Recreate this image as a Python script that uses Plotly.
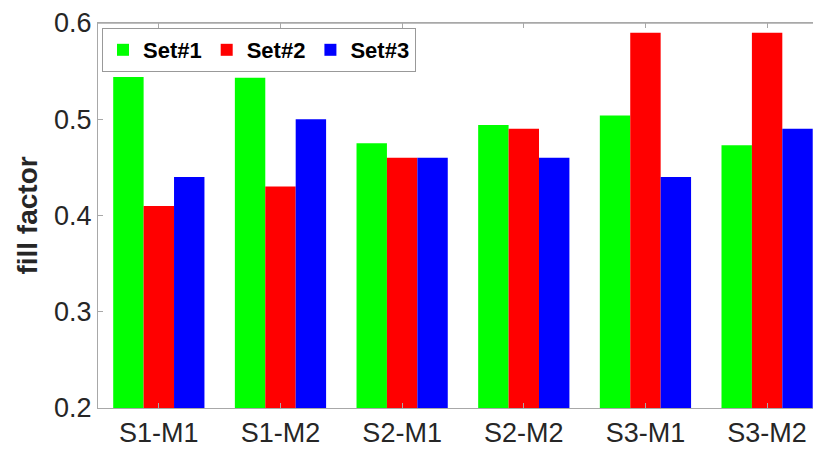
import plotly.graph_objects as go

categories = ["S1-M1", "S1-M2", "S2-M1", "S2-M2", "S3-M1", "S3-M2"]
set1 = [0.544, 0.543, 0.475, 0.494, 0.504, 0.473]
set2 = [0.410, 0.430, 0.460, 0.490, 0.590, 0.590]
set3 = [0.440, 0.500, 0.460, 0.460, 0.440, 0.490]
series_names = ["Set#1", "Set#2", "Set#3"]
series_colors = ["#00ff00", "#ff0000", "#0000ff"]
y_ticks = [0.2, 0.3, 0.4, 0.5, 0.6]

fig = go.Figure()
for name, vals, col in zip(series_names, [set1, set2, set3], series_colors):
    fig.add_trace(go.Bar(x=categories, y=vals, name=name,
                         marker=dict(color=col, line=dict(width=0))))

axis_col = "#a8a8a8"
font_fam = "Liberation Sans, Arial, sans-serif"
xrange = [-0.5, 5.443]
# page body has an 8px default margin, so the figure is sized 8px smaller
fig.update_layout(
    width=813, height=445,
    margin=dict(l=90, r=0, t=12, b=45),
    plot_bgcolor="white", paper_bgcolor="white",
    barmode="group", bargap=0.25, bargroupgap=0,
    font=dict(family=font_fam, color="#262626"),
    legend=dict(orientation="h", x=0.0055, y=0.987, xanchor="left", yanchor="top",
                bgcolor="white", bordercolor="#999999", borderwidth=1,
                font=dict(size=22, color="black", family="Liberation Sans, Arial", weight="bold"),
                itemwidth=30, tracegroupgap=0),
    xaxis=dict(type="category", range=xrange, showline=True, linecolor=axis_col,
               linewidth=1.3, mirror="allticks", ticks="inside", ticklen=5, tickcolor=axis_col,
               tickfont=dict(size=27, color="#262626"), showgrid=False, zeroline=False,
               ticklabeloverflow="allow"),
    yaxis=dict(range=[0.2, 0.6], tickvals=y_ticks, ticktext=[f"{v:.1f}" for v in y_ticks],
               showline=True, linecolor=axis_col, linewidth=1.3, mirror=False,
               ticks="inside", ticklen=5, tickcolor=axis_col, ticklabeloverflow="allow",
               tickfont=dict(size=27, color="#262626"), showgrid=False, zeroline=False,
               title=dict(text="<b>fill factor</b>", standoff=8,
                          font=dict(size=28, color="#262626"))),
    shapes=[dict(type="line", xref="paper", yref="paper", x0=0, x1=1, y0=1, y1=1,
                 line=dict(color=axis_col, width=1.3), layer="above")],
)

fig.write_html("out.html")
